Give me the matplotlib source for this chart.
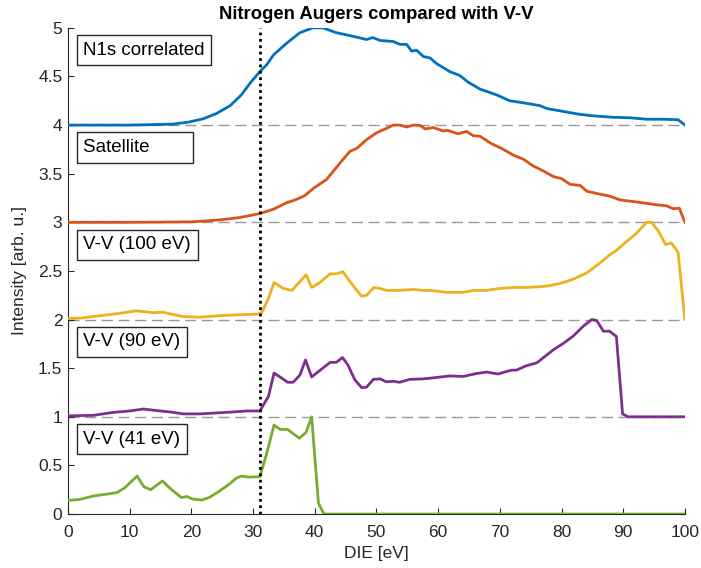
import matplotlib
matplotlib.use("Agg")
import matplotlib.pyplot as plt
import matplotlib.ticker as ticker

plt.rcParams["font.family"] = ["Liberation Sans", "DejaVu Sans"]

# Stacked spectra, each offset by one unit on the intensity axis
n1s_x = [0, 5, 10, 14, 17, 19.5, 21.9, 24.1, 26.3, 28.1, 29.5, 31.1, 32.2, 33.3,
         35.4, 37.6, 39.7, 41.3, 43.5, 45.7, 48.4, 49.4, 50.6, 52.7, 53.8, 54.9,
         55.7, 56.5, 57.6, 58.7, 59.8, 61.9, 63.5, 64.9, 66.8, 69.5, 71.6, 73.7,
         76.5, 77.6, 80.3, 83.0, 85.1, 88.4, 91.1, 93.8, 96.5, 98.9, 100]
n1s_y = [4.0, 4.0, 4.0, 4.005, 4.01, 4.03, 4.064, 4.12, 4.20, 4.31, 4.43, 4.55,
         4.62, 4.72, 4.84, 4.95, 5.0, 5.0, 4.95, 4.92, 4.88, 4.90, 4.87, 4.86,
         4.83, 4.83, 4.76, 4.77, 4.705, 4.69, 4.63, 4.55, 4.51, 4.44, 4.37, 4.31,
         4.25, 4.23, 4.20, 4.17, 4.14, 4.11, 4.095, 4.08, 4.075, 4.06, 4.06,
         4.055, 4.0]

sat_x = [0, 10, 20, 22.5, 24.6, 26, 27.9, 29.5, 31.1, 33.3, 35.4, 37, 38.4,
         39.8, 41.9, 44.1, 45.7, 46.8, 48.4, 50.0, 51.6, 52.7, 53.8, 54.9, 56.0,
         57.1, 57.9, 59.2, 60.8, 61.6, 63.2, 64.6, 65.7, 66.8, 68.6, 70.3, 72.2,
         73.8, 75.4, 77.0, 78.7, 80.0, 81.4, 83.0, 84.1, 86.2, 87.8, 89.5, 92.7,
         95.4, 97.0, 98.1, 99.1, 100]
sat_y = [3.0, 3.0, 3.005, 3.015, 3.025, 3.035, 3.05, 3.07, 3.09, 3.135, 3.20,
         3.235, 3.275, 3.35, 3.44, 3.61, 3.73, 3.76, 3.85, 3.92, 3.965, 4.0, 4.0,
         3.98, 4.0, 3.995, 3.96, 3.975, 3.94, 3.945, 3.91, 3.935, 3.89, 3.885,
         3.81, 3.76, 3.69, 3.65, 3.58, 3.53, 3.47, 3.45, 3.39, 3.38, 3.32, 3.29,
         3.27, 3.23, 3.205, 3.18, 3.17, 3.14, 3.145, 3.0]

vv100_x = [0, 2, 5.2, 7.9, 11.1, 13.8, 15.4, 18.7, 21.4, 24.6, 27.9, 30.6, 31.4,
           32.5, 33.4, 34.9, 36.3, 38.6, 39.5, 40.8, 42.5, 43.4, 44.6, 45.7,
           47.6, 48.4, 49.6, 50.6, 51.6, 53.8, 56.0, 57.6, 58.7, 61.4, 64.1,
           65.7, 67.9, 70.0, 72.2, 74.3, 77.0, 78.1, 79.7, 81.9, 84.1, 86.2,
           87.8, 88.9, 90.5, 92.2, 93.8, 94.6, 95.7, 96.9, 97.8, 98.9, 100]
vv100_y = [2.01, 2.015, 2.04, 2.06, 2.09, 2.07, 2.075, 2.03, 2.025, 2.04, 2.05,
           2.055, 2.07, 2.22, 2.38, 2.32, 2.30, 2.46, 2.33, 2.38, 2.47, 2.47,
           2.49, 2.39, 2.24, 2.25, 2.33, 2.32, 2.30, 2.30, 2.31, 2.30, 2.30,
           2.28, 2.28, 2.30, 2.30, 2.32, 2.33, 2.33, 2.34, 2.35, 2.37, 2.415,
           2.48, 2.58, 2.665, 2.71, 2.80, 2.89, 3.0, 3.0, 2.91, 2.77, 2.79,
           2.69, 2.0]

vv90_x = [0, 4.1, 7.3, 10, 12.2, 14.9, 16.5, 18.7, 21.4, 24.1, 26.8, 29.0, 31.1,
          32.5, 33.4, 34.6, 35.6, 36.5, 37.6, 38.5, 39.5, 40.8, 42.5, 43.5,
          44.5, 45.4, 46.5, 47.6, 48.4, 49.5, 50.6, 51.6, 52.7, 53.8, 55.4,
          57.6, 59.8, 61.9, 64.1, 66.2, 67.9, 69.7, 70.8, 71.9, 72.7, 74.3,
          76.0, 77.6, 78.7, 80.3, 81.9, 83.5, 84.9, 85.7, 86.8, 87.8, 88.9,
          89.9, 90.8, 100]
vv90_y = [1.01, 1.015, 1.045, 1.06, 1.08, 1.06, 1.05, 1.03, 1.03, 1.04, 1.05,
          1.06, 1.06, 1.21, 1.45, 1.40, 1.355, 1.355, 1.43, 1.585, 1.41, 1.475,
          1.56, 1.56, 1.61, 1.53, 1.38, 1.30, 1.305, 1.385, 1.39, 1.36, 1.365,
          1.355, 1.385, 1.39, 1.405, 1.42, 1.415, 1.445, 1.46, 1.44, 1.46, 1.48,
          1.48, 1.525, 1.555, 1.635, 1.69, 1.755, 1.83, 1.93, 2.0, 1.99, 1.88,
          1.88, 1.825, 1.03, 1.0, 1.0]

vv41_x = [0, 1.9, 4.1, 6.8, 7.9, 9.2, 11.2, 12.3, 13.4, 15.3, 16.8, 18.4, 19.3,
          20.2, 21.7, 22.9, 24.4, 26.0, 27.3, 28.1, 29.2, 31.1, 32.2, 33.4,
          34.4, 35.6, 37.5, 38.6, 39.5, 40.6, 41.5, 100]
vv41_y = [0.14, 0.15, 0.185, 0.21, 0.22, 0.27, 0.39, 0.28, 0.25, 0.34, 0.25,
          0.17, 0.18, 0.154, 0.144, 0.17, 0.23, 0.30, 0.37, 0.39, 0.38, 0.384,
          0.62, 0.915, 0.87, 0.87, 0.78, 0.84, 1.0, 0.11, 0.0, 0.0]

# trailing blanks keep the "Satellite" box as wide as the V-V boxes
labels = ["N1s correlated", "Satellite       ", "V-V (100 eV)", "V-V (90 eV)",
          "V-V (41 eV)"]
offsets = [4, 3, 2, 1, 0]
die_marker = 31.2

colors = ["#0072BD", "#D95319", "#EDB120", "#7E2F8E", "#77AC30"]
series = [(n1s_x, n1s_y), (sat_x, sat_y), (vv100_x, vv100_y),
          (vv90_x, vv90_y), (vv41_x, vv41_y)]

fig = plt.figure(figsize=(7.01, 5.68), dpi=100)
ax = fig.add_axes([0.097, 0.095, 0.88, 0.856])

# baselines for the shifted spectra
for off in offsets[:-1]:
    ax.plot([0, 100], [off, off], color="#999999", lw=1.0, dashes=(8, 4),
            zorder=1)

for (x, y), c in zip(series, colors):
    ax.plot(x, y, color=c, lw=2.0, zorder=3)

ax.axvline(die_marker, color="black", lw=2.0, ls=(0, (1, 1.3)), zorder=4)

for lab, off in zip(labels, offsets):
    ax.text(2.5, off + 0.77, lab, fontsize=13.5, color="black", va="center",
            ha="left",
            bbox=dict(boxstyle="square,pad=0.35", fc="white", ec="#262626",
                      lw=1.0))

ax.set_xlim(0, 100)
ax.set_ylim(0, 5)
ax.xaxis.set_major_locator(ticker.MultipleLocator(10))
ax.yaxis.set_major_locator(ticker.MultipleLocator(0.5))
ax.yaxis.set_major_formatter(ticker.FormatStrFormatter("%g"))

for side in ("top", "right"):
    ax.spines[side].set_visible(False)
for side in ("left", "bottom"):
    ax.spines[side].set_color("#262626")
    ax.spines[side].set_linewidth(0.8)

ax.tick_params(direction="in", length=4, width=0.8, color="#262626",
               labelsize=12.5, labelcolor="#262626")
ax.tick_params(axis="x", pad=8)
ax.tick_params(axis="y", pad=4)

ax.set_xlabel("DIE [eV]", fontsize=12.5, color="#262626", labelpad=4)
ax.set_ylabel("Intensity [arb. u.]", fontsize=12.5, color="#262626",
              labelpad=8)
ax.set_title("Nitrogen Augers compared with V-V", fontsize=13.3,
             fontweight="bold", pad=6)

fig.savefig("out.png", dpi=100)
